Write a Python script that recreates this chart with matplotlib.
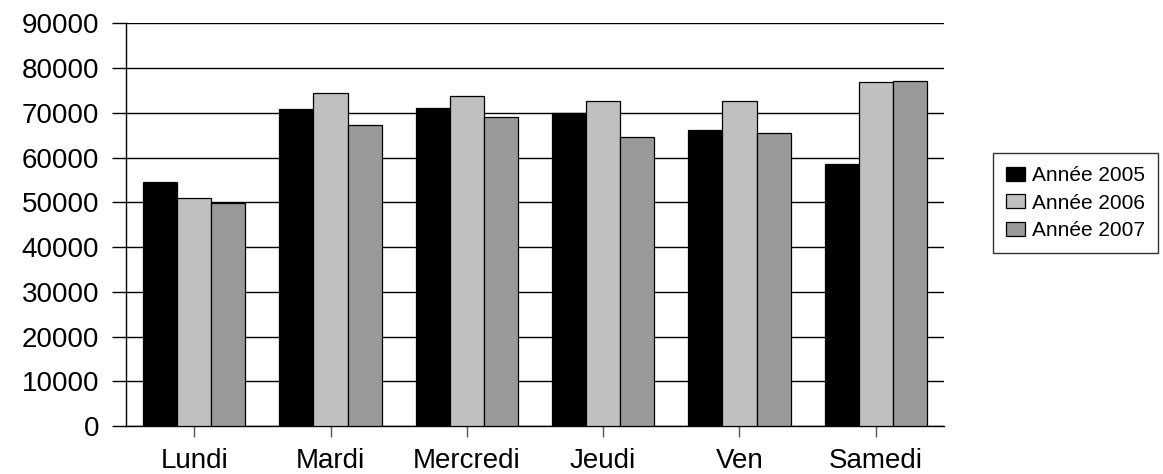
import matplotlib
matplotlib.use("Agg")
import matplotlib.pyplot as plt
import numpy as np

# Weekly figures by day, three years side by side
days = ["Lundi", "Mardi", "Mercredi", "Jeudi", "Ven", "Samedi"]
series_labels = ["Année 2005", "Année 2006", "Année 2007"]
values_2005 = [54500, 70800, 71100, 70000, 66200, 58500]
values_2006 = [51000, 74500, 73700, 72700, 72700, 76900]
values_2007 = [49800, 67300, 69000, 64600, 65400, 77000]
y_ticks = [0, 10000, 20000, 30000, 40000, 50000, 60000, 70000, 80000, 90000]

colors = ["#000000", "#c0c0c0", "#999999"]

plt.rcParams["font.family"] = ["Liberation Sans", "DejaVu Sans"]

W, H = 1163, 474
fig = plt.figure(figsize=(W / 100, H / 100), dpi=100)
left, right, top, bottom = 126, 944, 23.3, 426
ax = fig.add_axes([left / W, 1 - bottom / H, (right - left) / W, (bottom - top) / H])

x = np.arange(len(days))
width = 0.25
for i, (vals, lab, col) in enumerate(zip([values_2005, values_2006, values_2007],
                                         series_labels, colors)):
    ax.bar(x + (i - 1) * width, vals, width, color=col, edgecolor="#000000",
           linewidth=0.9, label=lab, zorder=3)

ax.set_xlim(-0.5, len(days) - 0.5)
ax.set_ylim(0, 90000)
ax.set_yticks(y_ticks)
ax.set_yticklabels([str(v) for v in y_ticks])
ax.set_xticks(x)
ax.set_xticklabels(days)

ax.yaxis.grid(True, color="#000000", linewidth=1.0, zorder=0)
ax.set_axisbelow(True)

for s in ["top", "right"]:
    ax.spines[s].set_visible(False)
ax.spines["left"].set_linewidth(1.0)
ax.spines["bottom"].set_linewidth(1.0)

ax.tick_params(axis="y", direction="out", length=10, width=1.0, color="#000000",
               labelsize=20, pad=9.5)
ax.tick_params(axis="x", direction="out", length=8, width=1.0, color="#555555",
               labelsize=20, pad=8)

leg = ax.legend(loc="upper left", bbox_to_anchor=(992.7 / W, 1 - 153 / H),
                bbox_transform=fig.transFigure, fontsize=15, frameon=True,
                fancybox=False, shadow=False, borderpad=0.62, labelspacing=0.42,
                handlelength=0.91, handleheight=0.67, handletextpad=0.38,
                borderaxespad=0)
leg.get_frame().set_edgecolor("#000000")
leg.get_frame().set_linewidth(1.0)

fig.savefig("out.png", dpi=100)
